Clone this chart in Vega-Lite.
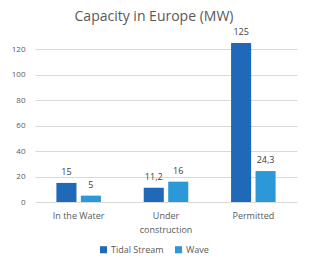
{
  "$schema": "https://vega.github.io/schema/vega-lite/v6.json",
  "autosize": "none",
  "width": 262,
  "height": 159,
  "padding": {"left": 35, "top": 43, "right": 12, "bottom": 64},
  "background": "white",
  "title": {
    "text": "Capacity in Europe (MW)",
    "font": "Open Sans",
    "fontSize": 14,
    "fontWeight": "normal",
    "color": "#595959",
    "anchor": "middle",
    "frame": "group",
    "dx": -12,
    "offset": 4
  },
  "data": {
    "values": [
      {"stage": "In the Water", "type": "Tidal Stream", "mw": 15, "lbl": "15"},
      {"stage": "In the Water", "type": "Wave", "mw": 5, "lbl": "5"},
      {"stage": "Under construction", "type": "Tidal Stream", "mw": 11.2, "lbl": "11,2"},
      {"stage": "Under construction", "type": "Wave", "mw": 16, "lbl": "16"},
      {"stage": "Permitted", "type": "Tidal Stream", "mw": 125, "lbl": "125"},
      {"stage": "Permitted", "type": "Wave", "mw": 24.3, "lbl": "24,3"}
    ]
  },
  "encoding": {
    "x": {
      "field": "stage", "type": "nominal", "sort": null,
      "scale": {"paddingInner": 0.49, "paddingOuter": 0.245},
      "axis": {
        "title": null, "labelAngle": 0, "ticks": false, "domain": false,
        "labelFont": "Open Sans", "labelFontSize": 9, "labelColor": "#595959",
        "labelPadding": 9, "labelLineHeight": 14,
        "labelExpr": "datum.label == 'Under construction' ? ['Under', 'construction'] : datum.label"
      }
    },
    "xOffset": {"field": "type", "type": "nominal", "scale": {"paddingInner": 0.18}},
    "y": {
      "field": "mw", "type": "quantitative",
      "scale": {"domain": [0, 125], "nice": false},
      "axis": {
        "title": null, "values": [0, 20, 40, 60, 80, 100, 120],
        "domain": false, "ticks": false, "labelPadding": 10,
        "labelFont": "Open Sans", "labelFontSize": 8, "labelColor": "#595959",
        "gridColor": "#d9d9d9", "gridWidth": 1
      }
    }
  },
  "layer": [
    {
      "mark": {"type": "bar"},
      "encoding": {
        "color": {
          "field": "type", "type": "nominal",
          "scale": {"domain": ["Tidal Stream", "Wave"], "range": ["#2068b8", "#2b98d8"]},
          "legend": {
            "title": null, "orient": "none", "direction": "horizontal",
            "legendX": 64, "legendY": 202,
            "symbolType": "square", "symbolSize": 50,
            "labelFont": "Open Sans", "labelFontSize": 9, "labelColor": "#595959",
            "columnPadding": 10, "symbolOffset": 0, "labelOffset": 3
          }
        }
      }
    },
    {
      "mark": {"type": "text", "dy": -6, "baseline": "bottom", "font": "Open Sans", "fontSize": 9, "color": "#404040"},
      "encoding": {
        "text": {"field": "lbl"},
        "detail": {"field": "type"}
      }
    }
  ],
  "config": {"view": {"stroke": null}}
}
